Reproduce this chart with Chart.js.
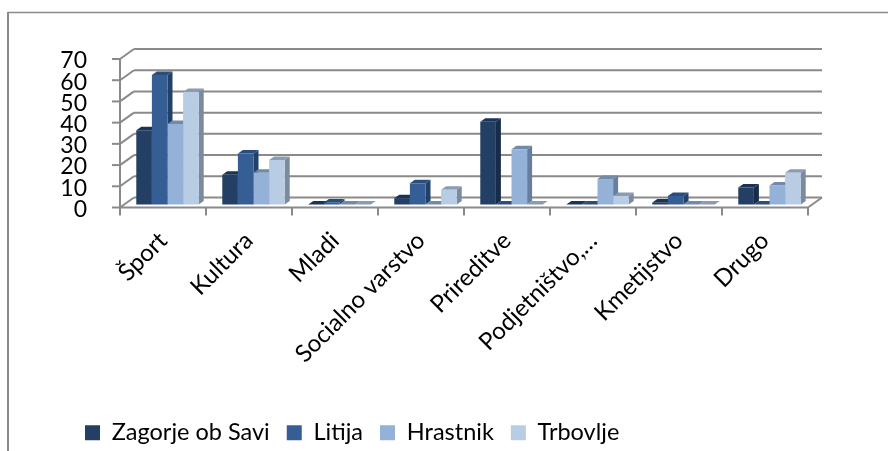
<!DOCTYPE html>
<html>
<head>
<meta charset="utf-8">
<style>
html, body { margin: 0; padding: 0; background: #fff; }
#wrap { width: 888px; height: 451px; position: relative; }
</style>
<script src="https://cdn.jsdelivr.net/npm/chart.js@4/dist/chart.umd.min.js"></script>
</head>
<body>
<div id="wrap"><canvas id="chart" width="888" height="451"></canvas></div>
<script>
const categories = ['Šport', 'Kultura', 'Mladi', 'Socialno varstvo', 'Prireditve', 'Podjetništvo,…', 'Kmetijstvo', 'Drugo'];
const zagorje = [35, 14, 0, 3, 39, 0, 1, 8];
const litija = [61, 24, 1, 10, 0, 0, 4, 0];
const hrastnik = [38, 15, 0, 0, 26, 12, 0, 9];
const trbovlje = [53, 21, 0, 7, 0, 4, 0, 15];
const seriesNames = ['Zagorje ob Savi', 'Litija', 'Hrastnik', 'Trbovlje'];

const frontColors = ['#243f64', '#355f94', '#94b1d7', '#b8cce4'];
const sideColors = ['#172c49', '#21406a', '#667e9f', '#7a8b9f'];
const topColors = ['#1b3354', '#2a4d7a', '#7389a8', '#8a9bb2'];

const gridColor = '#8a8a8a';
const fontName = 'Lato, sans-serif';
const legendPadding = 17;

// wall depth of the fake 3D box, and how far the bars stand in from the front
const wallX = 14, wallY = -10;
const barX = 4.5, barY = -3;
const depthX = 5, depthY = -3.5;

function line(ctx, x1, y1, x2, y2) {
    ctx.beginPath();
    ctx.moveTo(x1, y1);
    ctx.lineTo(x2, y2);
    ctx.stroke();
}

function poly(ctx, pts, color) {
    ctx.fillStyle = color;
    ctx.beginPath();
    pts.forEach((p, i) => i ? ctx.lineTo(p[0], p[1]) : ctx.moveTo(p[0], p[1]));
    ctx.closePath();
    ctx.fill();
}

const box3d = {
    id: 'box3d',
    afterLayout(chart) {
        // legend sits left of centre in the original
        chart.legend.left = 85 - legendPadding;
        chart.legend.top = 435 - 14 - legendPadding;
    },
    beforeDatasetsDraw(chart) {
        const ctx = chart.ctx;
        const y = chart.scales.y;
        const left = chart.chartArea.left;
        const right = chart.chartArea.right;

        // frame around the chart
        ctx.save();
        ctx.strokeStyle = gridColor;
        ctx.lineWidth = 2;
        line(ctx, 8, 12, 8, 451);
        ctx.lineWidth = 1.5;
        line(ctx, 8, 12.5, 888, 12.5);

        // walls and gridlines
        ctx.lineWidth = 2;
        y.ticks.forEach(t => {
            const py = y.getPixelForValue(t.value);
            line(ctx, left, py, left + wallX, py + wallY);
            line(ctx, left + wallX, py + wallY, right + wallX, py + wallY);
            line(ctx, left - 8, py, left, py);
        });
        line(ctx, left, y.getPixelForValue(70), left, y.getPixelForValue(0) + 8);
        const y0 = y.getPixelForValue(0);
        line(ctx, left, y0, right, y0);
        line(ctx, right, y0, right + wallX, y0 + wallY);
        const step = (right - left) / categories.length;
        for (let i = 1; i <= categories.length; i++) {
            line(ctx, left + step * i, y0, left + step * i, y0 + 8);
        }

        // top and side faces, left to right so neighbours overlap properly
        categories.forEach((c, index) => {
            chart.data.datasets.forEach((ds, di) => {
                const bar = chart.getDatasetMeta(di).data[index];
                const l = bar.x - bar.width / 2 + barX;
                const r = bar.x + bar.width / 2 + barX;
                const t = bar.y + barY;
                const b = bar.base + barY;
                poly(ctx, [[l, t], [l + depthX, t + depthY], [r + depthX, t + depthY], [r, t]], topColors[di]);
                poly(ctx, [[r, t], [r + depthX, t + depthY], [r + depthX, b + depthY], [r, b]], sideColors[di]);
            });
        });
        ctx.restore();

        // the library's own bars are the front faces
        ctx.save();
        ctx.translate(barX, barY);
    },
    afterDatasetsDraw(chart) {
        chart.ctx.restore();
    }
};

new Chart(document.getElementById('chart').getContext('2d'), {
    type: 'bar',
    data: {
        labels: categories,
        datasets: [zagorje, litija, hrastnik, trbovlje].map((values, i) => ({
            label: seriesNames[i],
            data: values,
            backgroundColor: frontColors[i],
            borderWidth: 0,
            categoryPercentage: 0.726,
            barPercentage: 1,
            clip: false
        }))
    },
    options: {
        responsive: false,
        animation: false,
        layout: { padding: { left: 40, right: 80, top: 59, bottom: 0 } },
        plugins: {
            tooltip: { enabled: false },
            legend: {
                position: 'bottom',
                align: 'start',
                labels: {
                    boxWidth: 15,
                    boxHeight: 15,
                    padding: legendPadding,
                    color: '#000',
                    font: { family: fontName, size: 23.5 }
                }
            }
        },
        scales: {
            x: {
                grid: { display: false },
                border: { display: false },
                ticks: {
                    autoSkip: false,
                    minRotation: 45,
                    maxRotation: 45,
                    padding: 11,
                    color: '#000',
                    font: { family: fontName, size: 24 }
                },
                afterFit(scale) {
                    scale.height = 451 - 207.5 - scale.chart.legend.height;
                }
            },
            y: {
                min: 0,
                max: 70,
                grid: { display: false },
                border: { display: false },
                ticks: {
                    stepSize: 10,
                    autoSkip: false,
                    padding: 25,
                    labelOffset: 2,
                    color: '#000',
                    font: { family: fontName, size: 23 }
                },
                afterFit(scale) {
                    scale.width = 80;
                }
            }
        }
    },
    plugins: [box3d]
});
</script>
</body>
</html>
